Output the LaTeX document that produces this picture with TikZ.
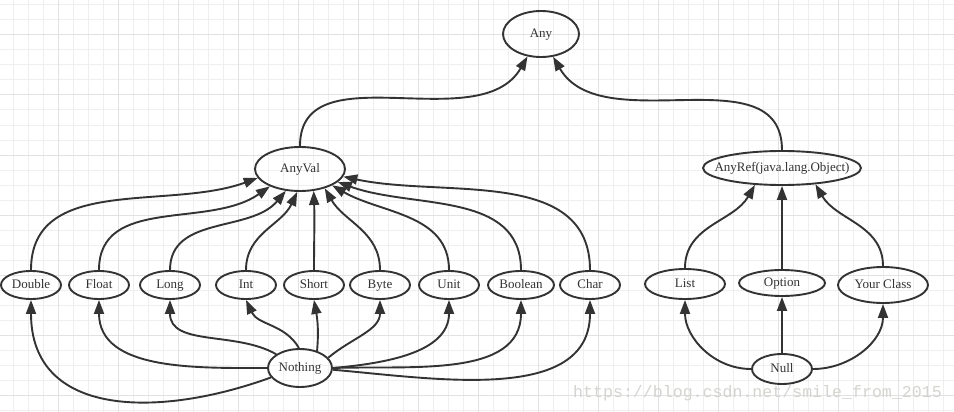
\documentclass[tikz,border=0pt]{standalone}
\usepackage{fontspec}
\setmainfont{Liberation Serif}
\newfontfamily\markfont{Liberation Mono}
\usetikzlibrary{arrows.meta,shapes.geometric}
\definecolor{ink}{HTML}{333333}
\definecolor{gridminor}{HTML}{EFEFEF}
\definecolor{gridmajor}{HTML}{E2E2E2}
\definecolor{markgray}{HTML}{D4D4D0}
\tikzset{
  typebox/.style={ellipse,draw=ink,line width=1.9pt,inner sep=0pt,text=ink,text height=10pt,text depth=3pt,font=\fontsize{13}{15}\selectfont},
  isa/.style={draw=ink,line width=1.9pt,-{Triangle[length=14pt,width=10pt]}},
}

\begin{document}
\begin{tikzpicture}[x=1pt,y=1pt]
  \useasboundingbox (0,0) rectangle (954,-412);
  \fill[white] (0,0) rectangle (954,-412);
  % grid paper
  \foreach \x in {13,28,...,943}{\draw[gridminor,line width=1pt] (\x,0)--(\x,-412);}
  \foreach \y in {5,20,...,410}{\draw[gridminor,line width=1pt] (0,-\y)--(954,-\y);}
  \foreach \x in {58,118,...,954}{\draw[gridmajor,line width=1pt] (\x,0)--(\x,-412);}
  \foreach \y in {35,95,...,412}{\draw[gridmajor,line width=1pt] (0,-\y)--(954,-\y);}

  \node[typebox,minimum width=76pt,minimum height=46pt] (any) at (541,-34) {Any};
  \node[typebox,minimum width=90pt,minimum height=44pt] (anyval) at (300,-169) {AnyVal};
  \node[typebox,minimum width=158pt,minimum height=34pt,inner xsep=-12pt] (anyref) at (782,-168) {AnyRef(java.lang.Object)};
  \foreach \name/\txt/\x in {double/Double/31,float/Float/99,long/Long/170,int/Int/246,short/Short/314,byte/Byte/380,unit/Unit/449,char/Char/590}
    {\node[typebox,minimum width=60pt,minimum height=28pt] (\name) at (\x,-285) {\txt};}
  \node[typebox,minimum width=66pt,minimum height=28pt] (boolean) at (521,-285) {Boolean};
  \node[typebox,minimum width=80pt,minimum height=30pt] (list) at (685,-284) {List};
  \node[typebox,minimum width=86pt,minimum height=26pt] (option) at (782,-283) {Option};
  \node[typebox,minimum width=90pt,minimum height=36pt] (yourclass) at (883,-285) {Your Class};
  \node[typebox,minimum width=64pt,minimum height=38pt] (nothing) at (300,-368) {Nothing};
  \node[typebox,minimum width=60pt,minimum height=30pt] (null) at (782,-369) {Null};

  \draw[isa] (anyval.north) to[out=90,in=240] (any.239);
  \draw[isa] (anyref.north) to[out=90,in=300] (any.298);

  \draw[isa] (double.north) to[out=90,in=200] (anyval.192);
  \draw[isa] (float.north) to[out=90,in=215] (anyval.210);
  \draw[isa] (long.north) to[out=90,in=230] (anyval.237);
  \draw[isa] (int.north) to[out=90,in=245] (anyval.263);
  \draw[isa] (short.north) to[out=90,in=272] (anyval.302);
  \draw[isa] (byte.north) to[out=90,in=300] (anyval.322);
  \draw[isa] (unit.north) to[out=90,in=330] (anyval.333);
  \draw[isa] (boolean.north) to[out=90,in=340] (anyval.341);
  \draw[isa] (char.north) to[out=90,in=348] (anyval.350);

  \draw[isa] (nothing.198) to[out=200,in=270,looseness=1.2] (double.south);
  \draw[isa] (nothing.west) to[out=180,in=270] (float.south);
  \draw[isa] (nothing.150) to[out=150,in=270] (long.south);
  \draw[isa] (nothing.93) to[out=120,in=295] (int.south);
  \draw[isa] (nothing.45) to[out=85,in=280] (short.south);
  \draw[isa] (nothing.20) to[out=40,in=270] (byte.south);
  \draw[isa] (nothing.east) to[out=5,in=270] (unit.south);
  \draw[isa] (nothing.east) to[out=2,in=270] (boolean.south);
  \draw[isa] (nothing.-3) to[out=-5,in=270] (char.south);

  \draw[isa] (list.north) to[out=90,in=240] (anyref.212);
  \draw[isa] (option.north) -- (anyref.south);
  \draw[isa] (yourclass.north) to[out=90,in=300] (anyref.334);
  \draw[isa] (null.west) to[out=180,in=270] (list.south);
  \draw[isa] (null.north) -- (option.south);
  \draw[isa] (null.east) to[out=0,in=270] (yourclass.south);

  \node[text=markgray,font=\markfont\fontsize{16.6}{18}\selectfont,anchor=base west,inner sep=0pt] (mark) at (573,-397) {https://blog.csdn.net/smile\_from\_2015};
\end{tikzpicture}
\end{document}
